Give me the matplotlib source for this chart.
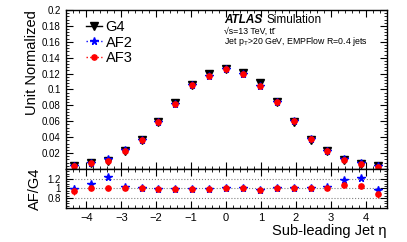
import matplotlib
matplotlib.use("Agg")
import matplotlib.pyplot as plt
from matplotlib.ticker import MultipleLocator, FixedLocator
from matplotlib.lines import Line2D
import numpy as np

plt.rcParams.update({
    "font.family": ["Liberation Sans", "DejaVu Sans"],
    "mathtext.fontset": "custom",
    "mathtext.rm": "Liberation Sans",
    "mathtext.it": "Liberation Sans:italic",
    "axes.linewidth": 1.0,
})

# Binning: 19 bins in eta between -4.6 and 4.6
edges = np.linspace(-4.6, 4.6, 20)
centers = 0.5 * (edges[1:] + edges[:-1])

# Unit normalized distributions
g4 = [0.0040, 0.0073, 0.0100, 0.0228, 0.0362, 0.0595, 0.0830, 0.1062, 0.1195, 0.1255,
      0.1205, 0.1078, 0.0840, 0.0595, 0.0365, 0.0225, 0.0108, 0.0058, 0.0033]
af2 = [0.0040, 0.0080, 0.0123, 0.0235, 0.0366, 0.0589, 0.0822, 0.1051, 0.1171, 0.1255,
       0.1200, 0.1046, 0.0840, 0.0601, 0.0372, 0.0232, 0.0126, 0.0071, 0.0032]
af3 = [0.0038, 0.0074, 0.0102, 0.0230, 0.0366, 0.0589, 0.0822, 0.1051, 0.1171, 0.1255,
       0.1200, 0.1046, 0.0840, 0.0601, 0.0372, 0.0230, 0.0116, 0.0061, 0.0029]
g4_err = [0.0003, 0.0004, 0.0004, 0.0006, 0.0007, 0.0009, 0.0011, 0.0012, 0.0013, 0.0013,
          0.0013, 0.0012, 0.0011, 0.0009, 0.0007, 0.0006, 0.0004, 0.0003, 0.0002]

# Ratio AF/G4
ratio_af2 = [0.99, 1.10, 1.23, 1.03, 1.01, 0.99, 0.99, 0.99, 0.98, 1.00,
             1.00, 0.97, 1.00, 1.01, 1.02, 1.03, 1.17, 1.22, 0.97]
ratio_af3 = [0.95, 1.02, 1.02, 1.01, 1.01, 0.99, 0.99, 0.99, 0.98, 1.00,
             1.00, 0.97, 1.00, 1.01, 1.02, 1.02, 1.07, 1.05, 0.89]
ratio_err = [0.09, 0.05, 0.03, 0.02, 0.015, 0.012, 0.01, 0.01, 0.01, 0.01,
             0.01, 0.01, 0.01, 0.012, 0.015, 0.02, 0.03, 0.05, 0.09]

fig = plt.figure(figsize=(4.07, 2.42), dpi=100)
ax = fig.add_axes([0.161, 0.3017, 0.789, 0.6570])
rax = fig.add_axes([0.161, 0.1405, 0.789, 0.1612], sharex=ax)

g4_style = dict(color="black", marker="v", markersize=5.5, linestyle="none")
af2_style = dict(color="blue", marker="*", markersize=5.5, linestyle="none")
af3_style = dict(color="red", marker="o", markersize=3.8, linestyle="none")

ax.errorbar(centers, g4, yerr=g4_err, elinewidth=0.8, capsize=0, **g4_style)
ax.errorbar(centers, af2, yerr=g4_err, elinewidth=0.8, capsize=0, **af2_style)
ax.errorbar(centers, af3, yerr=g4_err, elinewidth=0.8, capsize=0, **af3_style)

ax.set_xlim(-4.6, 4.6)
ax.set_ylim(0, 0.2)
ax.yaxis.set_major_locator(FixedLocator(np.arange(0.02, 0.201, 0.02)))
ax.yaxis.set_minor_locator(MultipleLocator(0.004))
ax.set_yticklabels(["0.02", "0.04", "0.06", "0.08", "0.1", "0.12", "0.14", "0.16", "0.18", "0.2"])
ax.set_ylabel("Unit Normalized", fontsize=10.5, loc="top", labelpad=2)
plt.setp(ax.get_xticklabels(), visible=False)

# Legend
handles = [
    Line2D([], [], color="black", marker="v", markersize=5.5, linestyle="-", linewidth=1),
    Line2D([], [], color="blue", marker="*", markersize=5.5, linestyle=":", linewidth=1),
    Line2D([], [], color="red", marker="o", markersize=3.8, linestyle=":", linewidth=1),
]
ax.legend(handles, ["G4", "AF2", "AF3"], loc="upper left", bbox_to_anchor=(0.045, 0.975),
          frameon=False, fontsize=10.5, handlelength=1.1, handletextpad=0.25,
          labelspacing=0.12, borderaxespad=0)

# ATLAS label
ax.text(0.493, 0.935, "ATLAS", transform=ax.transAxes, fontsize=8.5,
        fontweight="bold", fontstyle="italic", va="center")
ax.text(0.627, 0.935, "Simulation", transform=ax.transAxes, fontsize=8.5, va="center")
ax.text(0.493, 0.866, "\u221as=13 TeV, tt\u0304",
        transform=ax.transAxes, fontsize=6.3, va="center")
ax.text(0.493, 0.800, r"Jet p$_\mathregular{T}$>20 GeV, EMPFlow R=0.4 jets",
        transform=ax.transAxes, fontsize=6.3, va="center")

# Ratio panel
for yref in (0.8, 1.0, 1.2):
    rax.axhline(yref, color="gray", linestyle=":", linewidth=0.8, zorder=0)
rax.errorbar(centers, ratio_af2, yerr=ratio_err, elinewidth=0.8, capsize=0, **af2_style)
rax.errorbar(centers, ratio_af3, yerr=ratio_err, elinewidth=0.8, capsize=0, **af3_style)
rax.set_ylim(0.6, 1.4)
rax.yaxis.set_major_locator(FixedLocator([0.8, 1.0, 1.2]))
rax.yaxis.set_minor_locator(MultipleLocator(0.05))
rax.set_yticklabels(["0.8", "1", "1.2"])
rax.set_ylabel("AF/G4", fontsize=10.5, labelpad=4)
rax.xaxis.set_major_locator(MultipleLocator(1))
rax.xaxis.set_minor_locator(MultipleLocator(0.2))
rax.set_xticks(range(-4, 5))
rax.set_xticklabels([str(v).replace("-", "\u2212") for v in range(-4, 5)])
rax.set_xlabel("Sub-leading Jet \u03b7", fontsize=10.5, loc="right", labelpad=1)

for a in (ax, rax):
    a.tick_params(which="both", direction="in", top=True, right=True, labelsize=8)
    a.tick_params(which="major", length=5, width=0.8)
    a.tick_params(which="minor", length=2.5, width=0.6)
ax.tick_params(axis="y", labelsize=7)
rax.tick_params(axis="y", labelsize=7)
ax.xaxis.set_major_locator(MultipleLocator(1))
ax.xaxis.set_minor_locator(MultipleLocator(0.2))

fig.savefig("out.png", dpi=100)
